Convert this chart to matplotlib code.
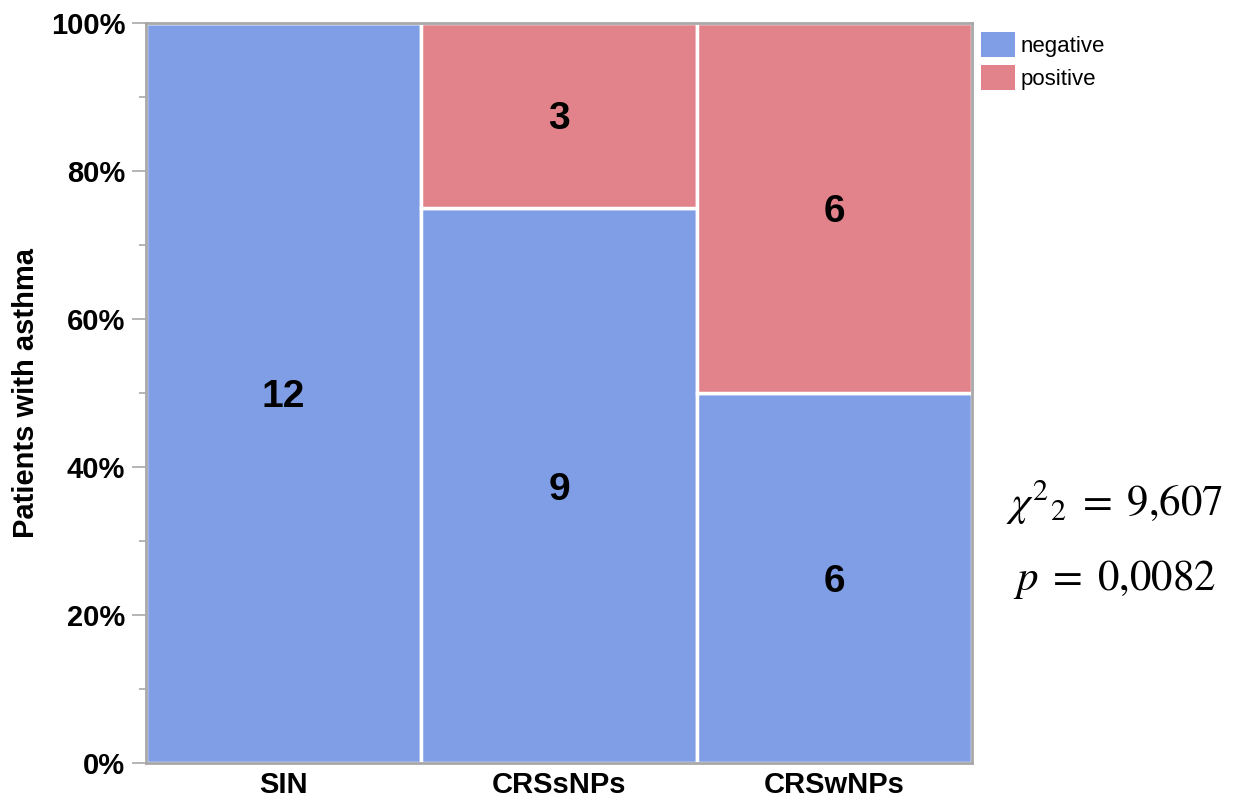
import numpy as np
import matplotlib.pyplot as plt
from matplotlib.patches import Patch

# data (counts per group)
groups = ['SIN', 'CRSsNPs', 'CRSwNPs']
negative = [12, 9, 6]
positive = [0, 3, 6]
stat_chi = '9{,}607'
stat_p = '0{,}0082'

col_neg = '#7f9ee6'
col_pos = '#e2838c'
gray = '#a8a8a8'

plt.rcParams['font.family'] = ['Liberation Sans', 'DejaVu Sans']
plt.rcParams['mathtext.fontset'] = 'stix'

fig = plt.figure(figsize=(12.34, 8.01), dpi=100)
ax = fig.add_axes([0.1183, 0.0474, 0.6694, 0.9239])

neg = np.array(negative, float)
pos = np.array(positive, float)
tot = neg + pos
fneg = neg / tot
fpos = pos / tot
x = np.arange(len(groups))

ax.bar(x, fneg, width=1.0, color=col_neg, edgecolor='white', linewidth=2.5)
ax.bar(x, fpos, width=1.0, bottom=fneg, color=col_pos, edgecolor='white', linewidth=2.5)

# counts in the middle of each segment
for i in range(len(groups)):
    if neg[i] > 0:
        ax.text(x[i], fneg[i] / 2, '%d' % neg[i], ha='center', va='center_baseline',
                fontsize=28, fontweight='bold')
    if pos[i] > 0:
        ax.text(x[i], fneg[i] + fpos[i] / 2, '%d' % pos[i], ha='center', va='center_baseline',
                fontsize=28, fontweight='bold')

ax.set_xlim(-0.5, len(groups) - 0.5)
ax.set_ylim(0, 1)
ax.set_xticks(x)
ax.set_xticklabels(groups, fontsize=21, fontweight='bold')
ax.set_yticks(np.arange(0, 1.01, 0.2))
ax.set_yticklabels(['%d%%' % v for v in range(0, 101, 20)], fontsize=21, fontweight='bold')
ax.set_yticks(np.arange(0.1, 1.0, 0.2), minor=True)
ax.tick_params(axis='y', which='major', length=10, width=1.2, color=gray, pad=5)
ax.tick_params(axis='y', which='minor', length=5, width=1.2, color=gray)
ax.tick_params(axis='x', length=0, pad=6)
ax.set_ylabel('Patients with asthma', fontsize=21, fontweight='bold', labelpad=8)
for s in ax.spines.values():
    s.set_color(gray)
    s.set_linewidth(2)

handles = [Patch(facecolor=col_neg, edgecolor='none', label='negative'),
           Patch(facecolor=col_pos, edgecolor='none', label='positive')]
fig.legend(handles=handles, loc='upper left', bbox_to_anchor=(0.7788, 0.985),
           frameon=False, fontsize=16, handlelength=1.55, handleheight=1.35,
           handletextpad=0.25, labelspacing=0.35)

fig.text(0.9036, 0.373, r'$\chi^{2}{}_{2}\;=\;%s$' % stat_chi, ha='center', va='center', fontsize=31)
fig.text(0.9036, 0.276, r'$p\;=\;%s$' % stat_p, ha='center', va='center', fontsize=31)

fig.savefig('out.png', dpi=100)
